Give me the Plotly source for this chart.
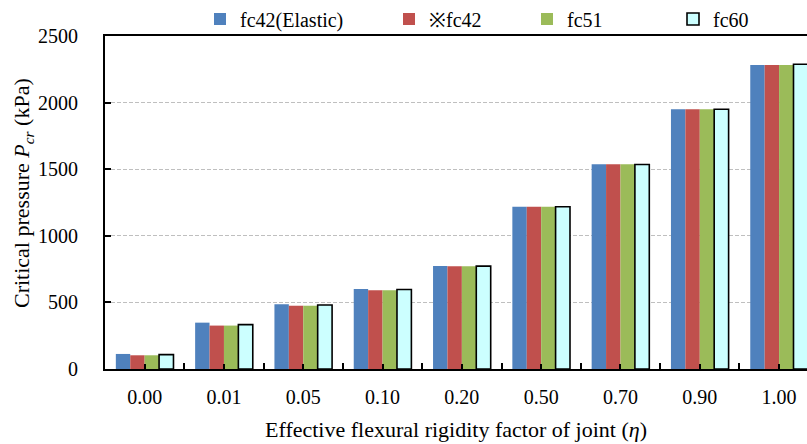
import plotly.graph_objects as go

categories = ["0.00", "0.01", "0.05", "0.10", "0.20", "0.50", "0.70", "0.90", "1.00"]
series_names = ["fc42(Elastic)", "※fc42", "fc51", "fc60"]
fc42_elastic = [113, 348, 486, 601, 773, 1218, 1537, 1950, 2282]
fc42 = [103, 326, 475, 591, 772, 1218, 1537, 1950, 2282]
fc51 = [103, 326, 475, 591, 772, 1218, 1537, 1950, 2282]
fc60 = [108, 333, 481, 597, 772, 1218, 1535, 1950, 2288]
y_ticks = [0, 500, 1000, 1500, 2000, 2500]
y_title = "Critical pressure <i>P</i><sub><i>cr</i></sub> (kPa)"
x_title = "Effective flexural rigidity factor of joint (<i>η</i>)"

colors = ["#4F81BD", "#C0504D", "#9BBB59", "#CCFFFF"]
line_colors = ["#4F81BD", "#C0504D", "#9BBB59", "#000000"]
line_widths = [0, 0, 0, 1.6]
values = [fc42_elastic, fc42, fc51, fc60]
legend_ids = ["legend", "legend2", "legend3", "legend4"]
legend_x_px = [200, 389, 527, 673]

FONT = "Liberation Serif"
W, H = 807, 444
L, T, B = 105, 36, 75
plot_w = W - L
plot_h = H - T - B
xpos = list(range(len(categories)))

fig = go.Figure()
for name, vals, c, lc, lw, lg in zip(series_names, values, colors, line_colors, line_widths, legend_ids):
    fig.add_trace(go.Bar(
        x=xpos, y=vals, name=name, legend=lg, showlegend=True,
        marker=dict(color=c, line=dict(color=lc, width=lw)),
    ))

legend_common = dict(
    orientation="h", xref="container", yref="container",
    yanchor="middle", xanchor="left", y=1 - 19 / H,
    font=dict(family=FONT, size=20, color="#000000"),
    bgcolor="rgba(0,0,0,0)", itemwidth=30,
)

layout_legends = {}
for lg, xp in zip(legend_ids, legend_x_px):
    layout_legends[lg] = dict(legend_common, x=xp / W)

fig.update_layout(
    width=W, height=H,
    margin=dict(l=L, r=0, t=T, b=B, autoexpand=False),
    plot_bgcolor="white", paper_bgcolor="white",
    barmode="group", bargap=0.273, bargroupgap=0,
    font=dict(family=FONT, size=19, color="#000000"),
    showlegend=True,
    **layout_legends,
)

fig.add_annotation(
    text=y_title, textangle=-90, showarrow=False,
    xref="paper", yref="paper",
    x=(23 - L) / plot_w, y=(369 - 193) / plot_h, xanchor="center", yanchor="middle",
    font=dict(family=FONT, size=22, color="#000000"),
)

fig.update_xaxes(
    range=[-0.5, 8.352],
    tickmode="array", tickvals=xpos, ticktext=categories,
    ticks="inside", ticklen=5, tickcolor="black", tickwidth=1.5,
    ticklabelstandoff=9,
    minor=dict(tickmode="linear", tick0=0.5, dtick=1, ticks="inside", ticklen=6,
               tickcolor="black", tickwidth=1.5, showgrid=False),
    showline=True, linecolor="black", linewidth=2, mirror=True,
    showgrid=False, zeroline=False,
    tickfont=dict(family=FONT, size=20),
    title=dict(text=x_title, font=dict(family=FONT, size=22), standoff=15),
)
fig.update_yaxes(
    range=[0, 2500], tickmode="array", tickvals=y_ticks,
    ticks="inside", ticklen=6, tickcolor="black", tickwidth=1.5,
    ticklabelstandoff=21,
    showline=True, linecolor="black", linewidth=2,
    showgrid=True, gridcolor="#BFBFBF", gridwidth=1, griddash="4px,2px",
    zeroline=False,
    tickfont=dict(family=FONT, size=20),
)

fig.write_html("out.html")
